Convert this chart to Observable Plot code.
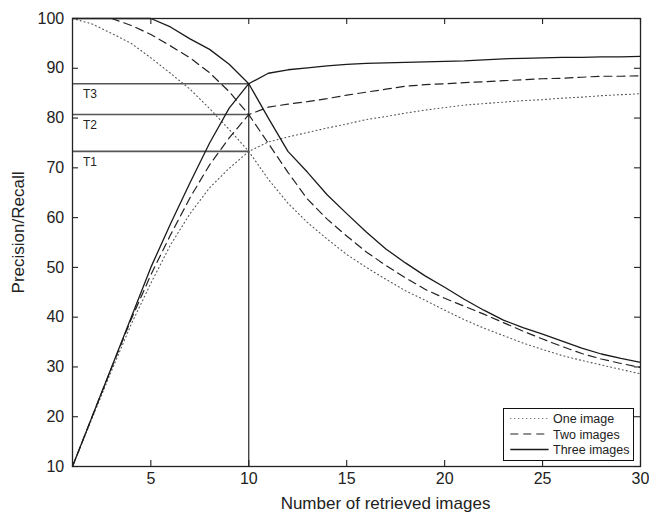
<!DOCTYPE html>
<html><head><meta charset="utf-8">
<script src="https://cdn.jsdelivr.net/npm/d3@7"></script>
<script src="https://cdn.jsdelivr.net/npm/@observablehq/plot@0.6"></script>
<style>
html,body{margin:0;padding:0;background:#fff;}
#wrap{position:relative;width:649px;height:515px;font-family:"Liberation Sans",Arial,sans-serif;color:#222;}
#legend{position:absolute;left:503px;top:408px;width:131px;height:53px;box-sizing:border-box;border:1px solid #111;background:#fff;}
#legend svg{display:block;}
</style></head><body><div id="wrap"></div>
<script>
const retrieved = [1,2,3,4,5,6,7,8,9,10,11,12,13,14,15,16,17,18,19,20,21,22,23,24,25,26,27,28,29,30];
const precisionOne = [100,98.9,97.0,95.0,92.1,89.0,85.8,81.9,77.7,73.3,67.7,62.9,59.0,55.7,52.6,50.0,47.6,45.3,43.4,41.4,39.5,37.8,36.3,34.8,33.5,32.3,31.3,30.4,29.5,28.6];
const precisionTwo = [100,100,100,98.6,96.8,94.5,92.1,89.1,85.3,80.7,74.9,69.1,63.7,59.7,56.3,53.1,50.4,47.9,45.6,43.8,42.2,40.6,38.9,37.2,35.6,34.1,32.7,31.6,30.7,29.9];
const precisionThree = [100,100,100,100,100,98.3,95.9,93.8,90.8,86.9,80.0,73.3,69.1,64.6,60.8,57.1,53.7,50.9,48.3,46.0,43.6,41.4,39.4,37.9,36.6,35.2,33.8,32.6,31.7,30.9];
const recallOne = [10,19.7,29.3,38.6,46.8,54.5,60.8,66.0,69.9,73.3,75.2,76.2,77.1,78.0,78.8,79.7,80.3,81.0,81.6,82.1,82.6,82.9,83.2,83.5,83.7,84.0,84.2,84.5,84.7,84.9];
const recallTwo = [10,20,29.9,39.6,48.5,56.5,64.0,70.6,76.0,80.7,82.2,82.8,83.3,83.9,84.6,85.2,85.8,86.4,86.7,86.9,87.1,87.3,87.5,87.7,87.9,88.0,88.2,88.4,88.4,88.5];
const recallThree = [10,20,30,40,50,58.7,67.0,75.0,82.0,86.9,89.0,89.7,90.1,90.5,90.8,91.0,91.1,91.2,91.3,91.4,91.5,91.7,91.9,92.0,92.1,92.2,92.2,92.3,92.3,92.4];
const seriesNames = ["One image","Two images","Three images"];
const thresholdLabels = ["T1","T2","T3"];
const thresholdValues = [73.3, 80.7, 86.9];
const thresholdX = [1, 10];
const xTicks = [5,10,15,20,25,30];
const yTicks = [10,20,30,40,50,60,70,80,90,100];
const xTitle = "Number of retrieved images";
const yTitle = "Precision/Recall";

const styles = [
  {stroke:"#555", strokeWidth:1.1, strokeDasharray:"1,3"},
  {stroke:"#222", strokeWidth:1.2, strokeDasharray:"8,5"},
  {stroke:"#1a1a1a", strokeWidth:1.3, strokeDasharray:null}
];
const precision = [precisionOne, precisionTwo, precisionThree];
const recall = [recallOne, recallTwo, recallThree];

const seriesMarks = [];
seriesNames.forEach((name, s) => {
  const rows = [];
  retrieved.forEach((x, i) => rows.push({x, y: precision[s][i], m: "precision"}));
  retrieved.forEach((x, i) => rows.push({x, y: recall[s][i], m: "recall"}));
  seriesMarks.push(Plot.line(rows, {x:"x", y:"y", z:"m", ...styles[s]}));
});

const thresholds = thresholdValues.map((v, i) => ({v, label: thresholdLabels[i]}));

const W = 649, H = 515, ML = 72, MR = 9, MT = 18, MB = 49, TICK = 6;
const FW = W - ML - MR, FH = H - MT - MB;
const font = "Liberation Sans, Arial, sans-serif";
const tickStyle = {stroke: "#222", strokeWidth: 1.1};
const chart = Plot.plot({
  width: W, height: H,
  marginLeft: ML, marginRight: MR, marginTop: MT, marginBottom: MB,
  style: {fontFamily: font, color: "#222", background: "#fff"},
  x: {domain: [1, 30]},
  y: {domain: [10, 100]},
  marks: [
    Plot.ruleY(thresholds, {y: "v", x1: thresholdX[0], x2: thresholdX[1], stroke: "#555", strokeWidth: 1.6}),
    Plot.ruleX([thresholdX[1]], {y1: 10, y2: thresholdValues[2], stroke: "#111", strokeWidth: 1.1}),
    Plot.text(thresholds, {x: () => thresholdX[0], y: "v", text: "label", textAnchor: "start", dx: 10.5, dy: 10.5, fontSize: 12, fill: "#222"}),
    ...seriesMarks,
    Plot.tickX(xTicks, {x: d => d, insetTop: FH - TICK, ...tickStyle}),
    Plot.tickX(xTicks, {x: d => d, insetBottom: FH - TICK, ...tickStyle}),
    Plot.tickY(yTicks, {y: d => d, insetRight: FW - TICK, ...tickStyle}),
    Plot.tickY(yTicks, {y: d => d, insetLeft: FW - TICK, ...tickStyle}),
    Plot.frame({stroke: "#222", strokeWidth: 1.3}),
    Plot.axisX(xTicks, {anchor: "bottom", tickSize: 0, tickPadding: 5.7, fontSize: 16, label: null}),
    Plot.axisY(yTicks, {anchor: "left", tickSize: 0, tickPadding: 8.3, fontSize: 16, label: null}),
    Plot.text([xTitle], {frameAnchor: "bottom", textAnchor: "middle", lineAnchor: "top", dx: 29, dy: 30.7, fontSize: 17, fill: "#222", style: "letter-spacing:0.9px"}),
    Plot.text([yTitle], {frameAnchor: "left", textAnchor: "middle", lineAnchor: "middle", rotate: -90, dx: -53.7, dy: -10, fontSize: 17, fill: "#222", style: "letter-spacing:1.1px"})
  ]
});
const wrap = document.getElementById("wrap");
wrap.appendChild(chart);

// legend
const legend = document.createElement("div");
legend.id = "legend";
const ns = "http://www.w3.org/2000/svg";
const lsvg = document.createElementNS(ns, "svg");
lsvg.setAttribute("width", 129); lsvg.setAttribute("height", 51);
const rowsY = [9.5, 25, 40.5];
seriesNames.forEach((name, i) => {
  const line = document.createElementNS(ns, "line");
  line.setAttribute("x1", 6.3); line.setAttribute("x2", 44.6);
  line.setAttribute("y1", rowsY[i]); line.setAttribute("y2", rowsY[i]);
  line.setAttribute("stroke", styles[i].stroke);
  line.setAttribute("stroke-width", styles[i].strokeWidth);
  if (styles[i].strokeDasharray) line.setAttribute("stroke-dasharray", styles[i].strokeDasharray);
  lsvg.appendChild(line);
  const t = document.createElementNS(ns, "text");
  t.setAttribute("x", 49); t.setAttribute("y", rowsY[i] + 4.5);
  t.setAttribute("font-size", 12.5);
  t.setAttribute("font-family", font);
  t.setAttribute("fill", "#222");
  t.textContent = name;
  lsvg.appendChild(t);
});
legend.appendChild(lsvg);
wrap.appendChild(legend);
</script></body></html>
